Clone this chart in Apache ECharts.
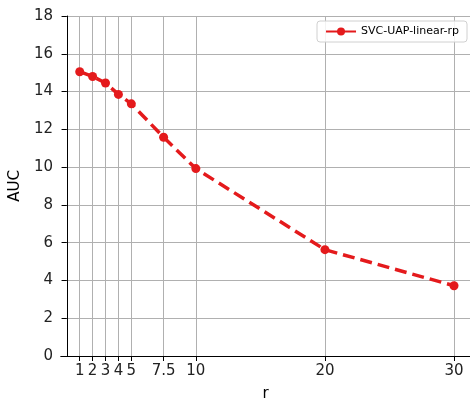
<!DOCTYPE html>
<html lang="en">
<head>
<meta charset="UTF-8">
<title>AUC vs r</title>
<script src="https://cdn.jsdelivr.net/npm/echarts@6/dist/echarts.min.js"></script>
<style>
  html, body { margin: 0; padding: 0; background: #fff; }
  #chart { width: 470px; height: 400px; }
</style>
</head>
<body>
<div id="chart"></div>
<script>
// values
var rValues = [1, 2, 3, 4, 5, 7.5, 10, 20, 30];
var aucValues = [15.05, 14.8, 14.45, 13.85, 13.35, 11.58, 9.92, 5.63, 3.72];
var xTicks = [1, 2, 3, 4, 5, 7.5, 10, 20, 30];
var seriesName = 'SVC-UAP-linear-rp';

var chart = echarts.init(document.getElementById('chart'));
var font = 'DejaVu Sans';
var points = rValues.map(function (r, i) { return [r, aucValues[i]]; });

var option = {
  animation: false,
  grid: { left: 61, right: 0, top: 16, bottom: 44, containLabel: false, outerBoundsMode: 'none' },
  legend: {
    right: 3, top: 21,
    data: [seriesName],
    itemWidth: 30, itemHeight: 10,
    padding: [5, 8, 5, 8],
    borderColor: '#d0d0d0', borderWidth: 1, borderRadius: 3,
    backgroundColor: 'rgba(255,255,255,0.85)',
    textStyle: { fontFamily: font, fontSize: 11, color: '#000' }
  },
  xAxis: [{
    type: 'value',
    min: -0.45, max: 31.24,
    name: 'r', nameLocation: 'middle', nameGap: 31,
    nameTextStyle: { fontFamily: font, fontSize: 15, color: '#000' },
    axisLine: { show: true, onZero: false, lineStyle: { color: '#000', width: 1 } },
    axisTick: { show: true, customValues: xTicks, length: 5, lineStyle: { color: '#000' } },
    axisLabel: {
      customValues: xTicks, fontFamily: font, fontSize: 15, color: '#222', margin: 8,
      hideOverlap: false,
      formatter: function (v) { return String(v); }
    },
    splitLine: { show: true, lineStyle: { color: '#b0b0b0', width: 1 } }
  }, {
    type: 'value', position: 'top',
    min: -0.45, max: 31.24,
    axisLine: { show: true, lineStyle: { color: '#000', width: 1 } },
    axisTick: { show: false }, axisLabel: { show: false }, splitLine: { show: false }
  }],
  yAxis: {
    type: 'value',
    min: 0, max: 18, interval: 2,
    name: 'AUC', nameLocation: 'middle', nameGap: 37,
    nameTextStyle: { fontFamily: font, fontSize: 15, color: '#000' },
    axisLine: { show: true, lineStyle: { color: '#000', width: 1 } },
    axisTick: { show: true, length: 5, lineStyle: { color: '#000' } },
    axisLabel: { fontFamily: font, fontSize: 15, color: '#222', margin: 8 },
    splitLine: { show: true, lineStyle: { color: '#b0b0b0', width: 1 } }
  },
  series: [{
    name: seriesName,
    type: 'line',
    data: points,
    symbol: 'circle', symbolSize: 9,
    itemStyle: { color: '#e41a1c' },
    lineStyle: { color: '#e41a1c', width: 3.5, type: [12, 6] }
  }]
};
chart.setOption(option);
</script>
</body>
</html>
